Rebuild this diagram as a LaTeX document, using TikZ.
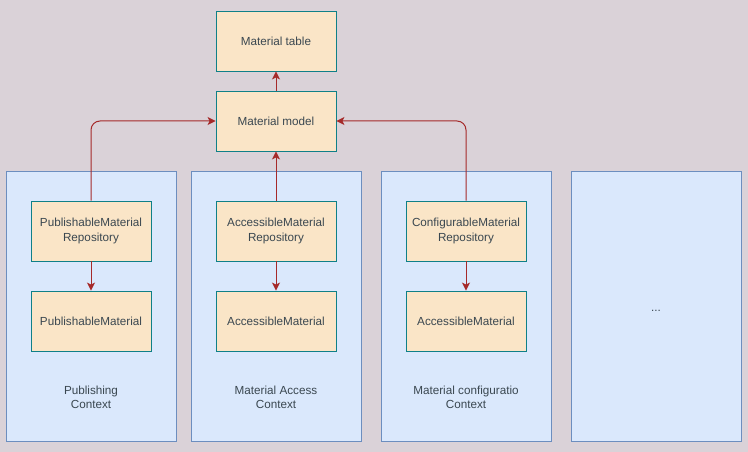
\documentclass[tikz,border=0pt]{standalone}
\usepackage{fontspec}
\setmainfont{Liberation Sans}
\usetikzlibrary{arrows.meta}
\definecolor{bg}{HTML}{DAD2D8}
\definecolor{ctxfill}{HTML}{DAE8FC}
\definecolor{ctxdraw}{HTML}{6C8EBF}
\definecolor{boxfill}{HTML}{FAE5C7}
\definecolor{boxdraw}{HTML}{0E8088}
\definecolor{arr}{HTML}{A52A2A}
\definecolor{txt}{HTML}{3A4750}
\begin{document}
\begin{tikzpicture}[x=1pt,y=-1pt,
  ctx/.style={draw=ctxdraw,fill=ctxfill,line width=0.9pt,minimum width=170pt,minimum height=270pt,inner sep=0pt},
  cls/.style={draw=boxdraw,fill=boxfill,line width=0.9pt,minimum width=120pt,minimum height=60pt,inner sep=0pt,align=center,text=txt,font=\fontsize{11.7}{14.5}\selectfont},
  lbl/.style={align=center,text=txt,font=\fontsize{11.7}{14}\selectfont},
  conn/.style={draw=arr,line width=1pt,-{Stealth[length=8pt,width=8pt,inset=2pt]},rounded corners=9pt}]
\fill[bg] (0,0) rectangle (748,452);
\useasboundingbox (0,0) rectangle (748,452);
\node[ctx] (c1) at (91,306) {};
\node[ctx] (c2) at (276,306) {};
\node[ctx] (c3) at (466,306) {};
\node[ctx] (c4) at (656,306) {};
\node[lbl] (l1) at (91,397.5) {Publishing\\Context};
\node[lbl] (l2) at (276,397.5) {Material Access\\Context};
\node[lbl] (l3) at (466,397.5) {Material configuratio\\Context};
\node[lbl] (l4) at (656,311) {...};
\node[cls] (table) at (276,41) {\raisebox{-1pt}{Material table}};
\node[cls] (model) at (276,121) {\raisebox{-1pt}{Material model}};
\node[cls] (r1) at (91,231) {PublishableMaterial\\Repository};
\node[cls] (m1) at (91,321) {\raisebox{-1pt}{PublishableMaterial}};
\node[cls] (r2) at (276,231) {AccessibleMaterial\\Repository};
\node[cls] (m2) at (276,321) {\raisebox{-1pt}{AccessibleMaterial}};
\node[cls] (r3) at (466,231) {ConfigurableMaterial\\Repository};
\node[cls] (m3) at (466,321) {\raisebox{-1pt}{AccessibleMaterial}};
\draw[conn] (model) -- (table);
\draw[conn] (r2) -- (model);
\draw[conn] (r1) -- (m1);
\draw[conn] (r2) -- (m2);
\draw[conn] (r3) -- (m3);
\draw[conn] (r1.north) |- (model.west);
\draw[conn] (r3.north) |- (model.east);
\end{tikzpicture}
\end{document}
